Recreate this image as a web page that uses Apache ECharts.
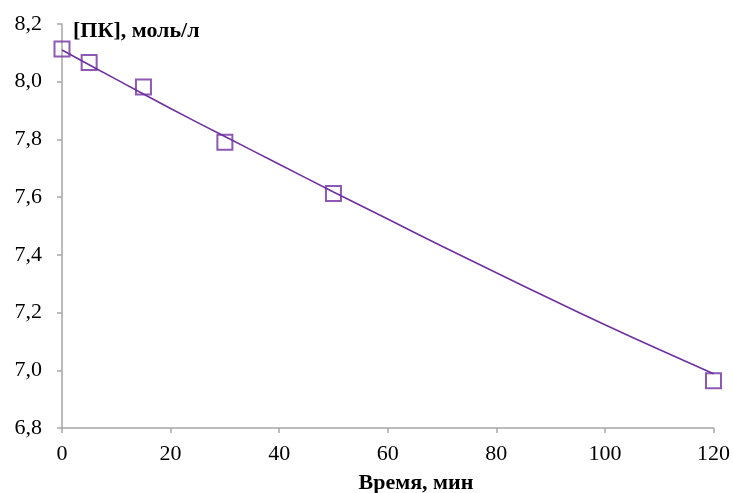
<!DOCTYPE html>
<html>
<head>
<meta charset="utf-8">
<script src="https://cdn.jsdelivr.net/npm/echarts@6/dist/echarts.min.js"></script>
<style>
  html, body { margin: 0; padding: 0; background: #ffffff; }
  #chart { width: 733px; height: 493px; }
</style>
</head>
<body>
<div id="chart"></div>
<script>
// Measured concentration of ПК over time
const timeMin = [0, 5, 15, 30, 50, 120];
const concPK = [8.113, 8.067, 7.982, 7.79, 7.613, 6.964];

// Trend line through the measurements
const trendTime = [0, 10, 20, 30, 40, 50, 60, 70, 80, 90, 100, 110, 120];
const trendConc = [8.110, 8.008, 7.907, 7.810, 7.714, 7.618, 7.524, 7.430, 7.338, 7.247, 7.158, 7.072, 6.988];

// Axis ranges and titles
const xTicks = { min: 0, max: 120, step: 20 };
const yTicks = { min: 6.8, max: 8.2, step: 0.2 };
const yTitle = '[ПК], моль/л';
const xTitle = 'Время, мин';

const purple = '#7030A0';
const axisGray = '#a6a6a6';
const serif = '"Liberation Serif", "Times New Roman", serif';

const chart = echarts.init(document.getElementById('chart'), null, { renderer: 'canvas' });

const pairs = (xs, ys) => xs.map((x, i) => [x, ys[i]]);

chart.setOption({
  animation: false,
  backgroundColor: '#ffffff',
  grid: { left: 62, right: 19, top: 24, bottom: 65, containLabel: false },
  xAxis: {
    type: 'value',
    min: xTicks.min, max: xTicks.max, interval: xTicks.step,
    axisLine: { show: true, lineStyle: { color: axisGray, width: 1.5 } },
    axisTick: { show: true, inside: false, length: 5, lineStyle: { color: axisGray, width: 1.5 } },
    splitLine: { show: false },
    axisLabel: { color: '#000', fontFamily: serif, fontSize: 22, margin: 15 }
  },
  yAxis: {
    type: 'value',
    min: yTicks.min, max: yTicks.max, interval: yTicks.step,
    axisLine: { show: true, lineStyle: { color: axisGray, width: 1.5 } },
    axisTick: { show: true, inside: false, length: 5, lineStyle: { color: axisGray, width: 1.5 } },
    splitLine: { show: false },
    axisLabel: {
      color: '#000', fontFamily: serif, fontSize: 22, margin: 20,
      formatter: v => v.toFixed(1).replace('.', ',')
    }
  },
  graphic: [
    {
      type: 'text', x: 73, y: 31,
      style: { text: yTitle, fill: '#000', font: 'bold 22px ' + serif, textAlign: 'left', textVerticalAlign: 'middle' }
    },
    {
      type: 'text', x: 416, y: 483,
      style: { text: xTitle, fill: '#000', font: 'bold 22px ' + serif, textAlign: 'center', textVerticalAlign: 'middle' }
    }
  ],
  series: [
    {
      type: 'line',
      data: pairs(trendTime, trendConc),
      smooth: 0.3,
      showSymbol: false,
      lineStyle: { color: purple, width: 1.6 },
      z: 2
    },
    {
      type: 'scatter',
      data: pairs(timeMin, concPK),
      symbol: 'rect',
      symbolSize: 15,
      itemStyle: { color: 'rgba(255,255,255,0)', borderColor: purple, borderWidth: 2 },
      z: 3
    }
  ]
});
</script>
</body>
</html>
